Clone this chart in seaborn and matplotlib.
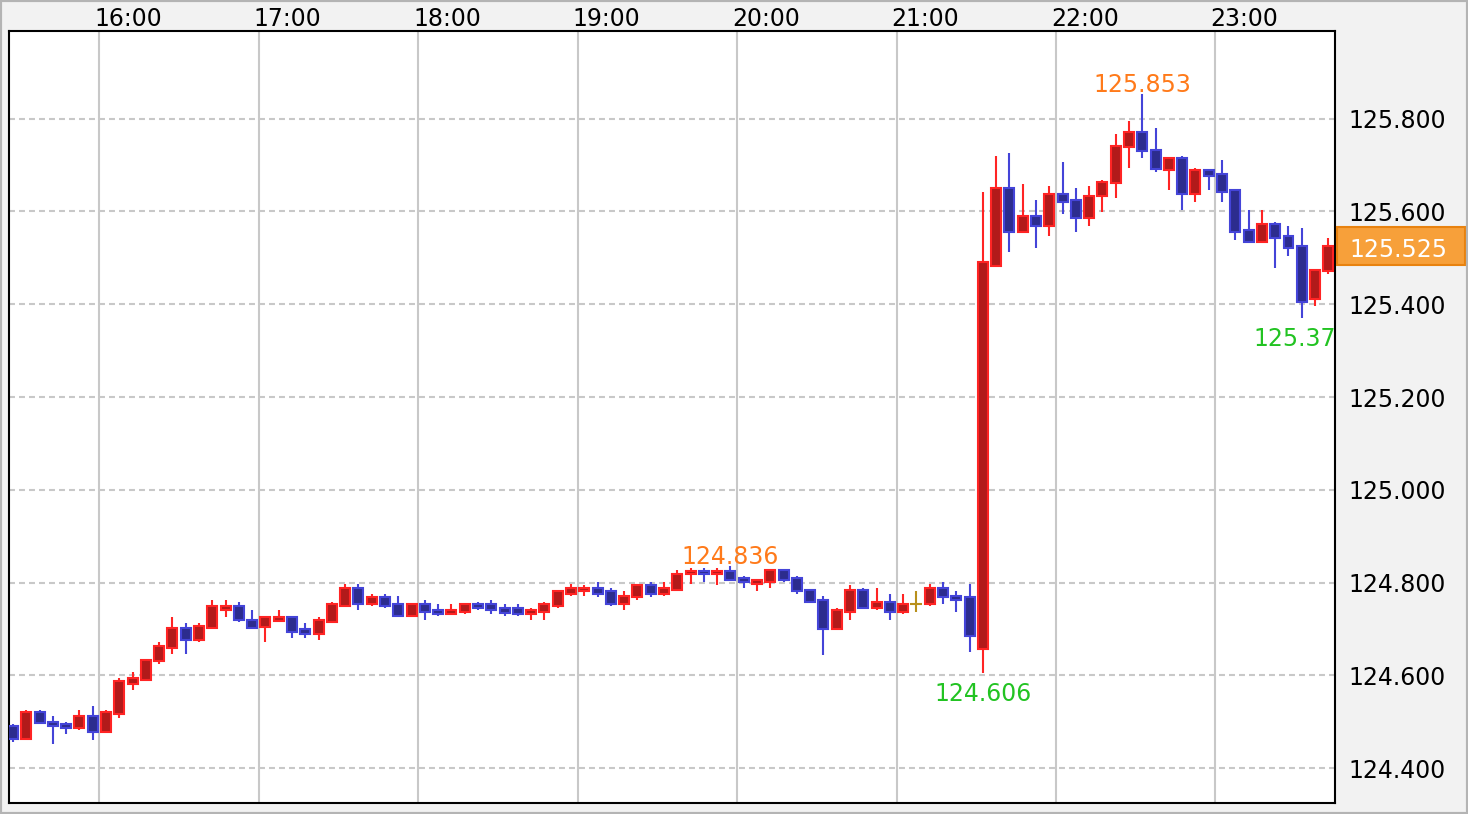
import pandas as pd
import matplotlib
matplotlib.use("Agg")
import matplotlib.pyplot as plt
import matplotlib.dates as mdates
import matplotlib.patches as mpatches
import matplotlib.transforms as mtransforms
import seaborn as sns

# ── data: 5-minute candles 15:25 .. 23:40 ─────────────────────
times = pd.date_range("2015-06-05 15:25", "2015-06-05 23:40", freq="5min")

opens = [
    124.492, 124.463, 124.522, 124.500, 124.496, 124.487, 124.513, 124.479, 124.517, 124.582,
    124.591, 124.630, 124.660, 124.703, 124.677, 124.703, 124.742, 124.750, 124.720, 124.704,
    124.718, 124.725, 124.699, 124.690, 124.716, 124.750, 124.789, 124.755, 124.768, 124.755,
    124.729, 124.755, 124.742, 124.733, 124.737, 124.755, 124.755, 124.746, 124.746, 124.733,
    124.737, 124.750, 124.776, 124.781, 124.789, 124.781, 124.755, 124.768, 124.794, 124.776,
    124.785, 124.819, 124.824, 124.819, 124.824, 124.811, 124.798, 124.802, 124.828, 124.811,
    124.785, 124.763, 124.699, 124.737, 124.785, 124.746, 124.759, 124.737, 124.755, 124.755,
    124.789, 124.772, 124.768, 124.656, 125.483, 125.651, 125.556, 125.591, 125.569, 125.638,
    125.625, 125.586, 125.634, 125.661, 125.739, 125.772, 125.733, 125.690, 125.716, 125.638,
    125.690, 125.681, 125.647, 125.561, 125.535, 125.574, 125.548, 125.526, 125.412, 125.472,
]
highs = [
    124.496, 124.526, 124.526, 124.513, 124.500, 124.526, 124.535, 124.526, 124.595, 124.608,
    124.634, 124.673, 124.725, 124.712, 124.712, 124.763, 124.763, 124.759, 124.742, 124.729,
    124.742, 124.729, 124.712, 124.725, 124.759, 124.798, 124.798, 124.776, 124.776, 124.772,
    124.755, 124.763, 124.755, 124.755, 124.755, 124.759, 124.763, 124.755, 124.755, 124.746,
    124.759, 124.785, 124.798, 124.794, 124.802, 124.789, 124.781, 124.798, 124.802, 124.802,
    124.828, 124.832, 124.832, 124.832, 124.836, 124.815, 124.806, 124.828, 124.828, 124.815,
    124.785, 124.772, 124.746, 124.794, 124.789, 124.789, 124.776, 124.776, 124.781, 124.798,
    124.802, 124.781, 124.798, 125.643, 125.720, 125.725, 125.660, 125.625, 125.655, 125.707,
    125.651, 125.655, 125.668, 125.768, 125.794, 125.853, 125.781, 125.716, 125.720, 125.694,
    125.690, 125.712, 125.647, 125.604, 125.604, 125.578, 125.569, 125.565, 125.474, 125.543,
]
lows = [
    124.457, 124.463, 124.497, 124.453, 124.474, 124.483, 124.461, 124.479, 124.509, 124.569,
    124.587, 124.625, 124.647, 124.647, 124.673, 124.703, 124.725, 124.716, 124.699, 124.671,
    124.718, 124.681, 124.681, 124.677, 124.712, 124.750, 124.742, 124.750, 124.746, 124.729,
    124.729, 124.720, 124.729, 124.733, 124.733, 124.742, 124.733, 124.729, 124.729, 124.720,
    124.720, 124.746, 124.772, 124.772, 124.768, 124.750, 124.742, 124.763, 124.768, 124.772,
    124.785, 124.798, 124.802, 124.794, 124.806, 124.789, 124.781, 124.789, 124.802, 124.776,
    124.759, 124.643, 124.699, 124.720, 124.746, 124.742, 124.720, 124.733, 124.737, 124.750,
    124.755, 124.737, 124.651, 124.606, 125.483, 125.513, 125.556, 125.522, 125.548, 125.595,
    125.556, 125.569, 125.599, 125.630, 125.694, 125.716, 125.686, 125.647, 125.604, 125.621,
    125.647, 125.621, 125.539, 125.535, 125.535, 125.479, 125.504, 125.371, 125.397, 125.466,
]
closes = [
    124.463, 124.522, 124.497, 124.492, 124.487, 124.513, 124.479, 124.522, 124.587, 124.595,
    124.634, 124.664, 124.703, 124.677, 124.707, 124.750, 124.750, 124.720, 124.703, 124.725,
    124.725, 124.694, 124.690, 124.720, 124.755, 124.789, 124.755, 124.768, 124.750, 124.729,
    124.755, 124.737, 124.733, 124.742, 124.755, 124.746, 124.742, 124.735, 124.733, 124.742,
    124.755, 124.781, 124.789, 124.789, 124.776, 124.755, 124.772, 124.794, 124.776, 124.789,
    124.819, 124.824, 124.819, 124.824, 124.806, 124.802, 124.806, 124.828, 124.806, 124.781,
    124.759, 124.699, 124.742, 124.785, 124.746, 124.759, 124.737, 124.755, 124.755, 124.789,
    124.768, 124.763, 124.686, 125.491, 125.651, 125.556, 125.591, 125.569, 125.638, 125.621,
    125.586, 125.634, 125.664, 125.742, 125.772, 125.730, 125.692, 125.716, 125.638, 125.690,
    125.677, 125.643, 125.556, 125.535, 125.574, 125.543, 125.522, 125.405, 125.474, 125.525,
]

price_ticks = [124.4, 124.6, 124.8, 125.0, 125.2, 125.4, 125.6, 125.8]
hour_ticks = pd.date_range("2015-06-05 16:00", "2015-06-05 23:00", freq="1h")

high_marks = [("2015-06-05 19:55", 124.836), ("2015-06-05 22:30", 125.853)]
low_marks = [("2015-06-05 21:30", 124.606), ("2015-06-05 23:30", 125.371)]
last_price = 125.525

# ── style ─────────────────────────────────────────────────────
sns.set_theme(style="white")
plt.rcParams["font.family"] = ["DejaVu Sans"]
plt.rcParams["lines.scale_dashes"] = False

UP_EDGE, UP_FILL = "#ff2424", "#b21a1a"
DN_EDGE, DN_FILL = "#4444d8", "#2c2c8e"
DOJI = "#b8901c"
HI_COLOR, LO_COLOR = "#ff7a1a", "#22c322"
GRID = "#c8c8c8"
FS = 17

half = pd.Timedelta(minutes=2.5)
BODY_W = 3.76 / 1440  # days

df = pd.DataFrame({"time": times, "open": opens, "high": highs,
                   "low": lows, "close": closes})
df["x"] = mdates.date2num(df["time"] + half)
df["bottom"] = df[["open", "close"]].min(axis=1)
df["height"] = (df["close"] - df["open"]).abs()

fig = plt.figure(figsize=(14.68, 8.14), dpi=100, facecolor="#f2f2f2")
ax = fig.add_axes([9 / 1468, 11 / 814, 1326 / 1468, 772 / 814])
ax.set_facecolor("white")

for mask, edge, fill in [(df.close > df.open, UP_EDGE, UP_FILL),
                         (df.close < df.open, DN_EDGE, DN_FILL)]:
    d = df[mask]
    ax.vlines(d.x, d.low, d.high, color=edge, lw=1.5, zorder=3)
    ax.bar(d.x, d.height, bottom=d.bottom, width=BODY_W, color=fill,
           edgecolor=edge, linewidth=1.5, zorder=4)

d = df[df.close == df.open]
ax.vlines(d.x, d.low, d.high, color=DOJI, lw=1.5, zorder=3)
ax.hlines(d.open, d.x - BODY_W * 0.6, d.x + BODY_W * 0.6, color=DOJI, lw=1.5, zorder=4)

# ── axes ──────────────────────────────────────────────────────
ax.set_xlim(mdates.date2num(pd.Timestamp("2015-06-05 15:26")),
            mdates.date2num(pd.Timestamp("2015-06-05 23:45")))
ax.set_ylim(124.325, 125.989)

ax.xaxis.tick_top()
ax.set_xticks(mdates.date2num(hour_ticks))
ax.xaxis.set_major_formatter(mdates.DateFormatter("%H:%M"))
ax.yaxis.tick_right()
ax.set_yticks(price_ticks)
ax.set_yticklabels([f"{v:.3f}" for v in price_ticks])
ax.tick_params(length=0, labelsize=FS, colors="black")
ax.tick_params(axis="x", pad=0)
ax.tick_params(axis="y", pad=10)

# hour labels start just left of their grid line
shift = mtransforms.ScaledTranslation(-5 / 100, 0, fig.dpi_scale_trans)
for lab in ax.get_xticklabels():
    lab.set_horizontalalignment("left")
    lab.set_transform(lab.get_transform() + shift)

ax.xaxis.grid(True, color=GRID, lw=1.5, ls="-")
ax.yaxis.grid(True, color=GRID, lw=1.5, ls=(0, (4.3, 2.9)))
ax.set_axisbelow(True)
for sp in ax.spines.values():
    sp.set_color("black")
    sp.set_linewidth(1.5)

# ── high / low marks ──────────────────────────────────────────
for t, v in high_marks:
    ax.annotate(f"{v:.3f}", xy=(mdates.date2num(pd.Timestamp(t) + half), v),
                xytext=(0, 1.5), textcoords="offset points", ha="center",
                va="baseline", color=HI_COLOR, fontsize=FS, zorder=6)
for t, v in low_marks:
    ax.annotate(f"{v:.3f}", xy=(mdates.date2num(pd.Timestamp(t) + half), v),
                xytext=(0, -6.5), textcoords="offset points", ha="center",
                va="top", color=LO_COLOR, fontsize=FS, zorder=6, clip_on=True)

# ── current price box ────────────────────────────────────────
trans = mtransforms.blended_transform_factory(fig.transFigure, ax.transData)
box_h = 38 / 464
ax.add_patch(mpatches.Rectangle((1337 / 1468, last_price - box_h / 2), 128 / 1468, box_h,
                                transform=trans, facecolor="#f7a03a", edgecolor="#e8820f",
                                lw=1.5, clip_on=False, zorder=5))
ax.annotate(f"{last_price:.3f}", xy=(1349 / 1468, last_price), xycoords=trans,
            xytext=(0, -7.8), textcoords="offset points", ha="left", va="baseline",
            color="white", fontsize=FS, annotation_clip=False, zorder=6)

# figure border
fig.patches.append(mpatches.Rectangle((0, 0), 1, 1, transform=fig.transFigure,
                                      fill=False, edgecolor="#b4b4b4", lw=3))

fig.savefig("out.png", dpi=100, facecolor=fig.get_facecolor())
